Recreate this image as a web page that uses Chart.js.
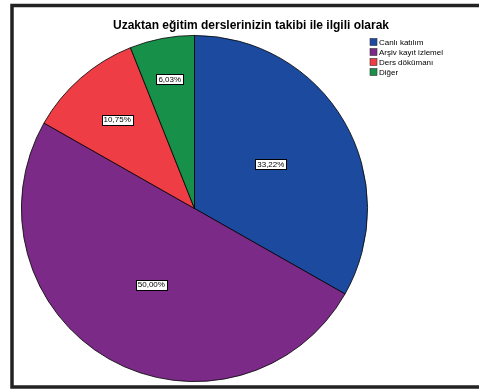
<!DOCTYPE html>
<html>
<head>
<meta charset="utf-8">
<script src="https://cdn.jsdelivr.net/npm/chart.js@4"></script>
<style>
html,body{margin:0;padding:0;background:#fff;}
#wrap{position:absolute;left:0;top:0;width:479px;height:389px;}
</style>
</head>
<body>
<div id="wrap"><canvas id="c" width="479" height="389"></canvas></div>
<script>
const titleText = 'Uzaktan eğitim derslerinizin takibi ile ilgili olarak';
const categories = ['Canlı katılım', 'Arşiv kayıt izlemel', 'Ders dökümanı', 'Diğer'];
const values = [33.22, 50.00, 10.75, 6.03];
const valueLabels = ['33,22%', '50,00%', '10,75%', '6,03%'];
const colors = ['#1c4a9f', '#7b2a87', '#ee3d45', '#179149'];

const overlay = {
  id: 'overlay',
  beforeDraw(chart) {
    const ctx = chart.ctx;
    ctx.save();
    ctx.fillStyle = '#fff';
    ctx.fillRect(0, 0, chart.width, chart.height);
    ctx.restore();
  },
  afterDraw(chart, args, opts) {
    const ctx = chart.ctx;
    ctx.save();
    // frame
    ctx.strokeStyle = '#222';
    ctx.lineWidth = 3.5;
    ctx.strokeRect(12, 5.5, 480, 381.5);
    // title
    ctx.fillStyle = '#000';
    ctx.font = 'bold 12px "Liberation Sans", Arial, sans-serif';
    ctx.textAlign = 'center';
    ctx.textBaseline = 'middle';
    ctx.fillText(titleText, 251, 26);
    // legend
    ctx.font = '8px "Liberation Sans", Arial, sans-serif';
    ctx.textAlign = 'left';
    categories.forEach((name, i) => {
      const y = 42 + i * 10;
      ctx.fillStyle = colors[i];
      ctx.fillRect(370, y - 3.5, 7, 7);
      ctx.strokeStyle = '#333';
      ctx.lineWidth = 0.6;
      ctx.strokeRect(370, y - 3.5, 7, 7);
      ctx.fillStyle = '#000';
      ctx.fillText(name, 379, y + 0.5);
    });
    // value labels
    const meta = chart.getDatasetMeta(0);
    ctx.font = '8px "Liberation Sans", Arial, sans-serif';
    ctx.textAlign = 'center';
    meta.data.forEach((arc, i) => {
      const p = arc.getProps(['x', 'y', 'startAngle', 'endAngle', 'outerRadius'], true);
      const mid = (p.startAngle + p.endAngle) / 2;
      const r = p.outerRadius * opts.radial[i];
      const x = p.x + Math.cos(mid) * r;
      const y = p.y + Math.sin(mid) * r;
      const t = valueLabels[i];
      const w = ctx.measureText(t).width + 4;
      const h = 10;
      ctx.fillStyle = '#fff';
      ctx.fillRect(Math.round(x - w / 2) + 0.5, Math.round(y - h / 2) + 0.5, Math.round(w), h);
      ctx.strokeStyle = '#000';
      ctx.lineWidth = 1;
      ctx.strokeRect(Math.round(x - w / 2) + 0.5, Math.round(y - h / 2) + 0.5, Math.round(w), h);
      ctx.fillStyle = '#000';
      ctx.fillText(t, x, y + 0.5);
    });
    ctx.restore();
  }
};

new Chart(document.getElementById('c'), {
  type: 'pie',
  data: {
    labels: categories,
    datasets: [{
      data: values,
      backgroundColor: colors,
      borderColor: '#000',
      borderWidth: 0.8
    }]
  },
  options: {
    responsive: false,
    animation: false,
    layout: { padding: { left: 21, top: 35, right: 111, bottom: 7 } },
    plugins: {
      legend: { display: false },
      title: { display: false },
      tooltip: { enabled: false },
      overlay: { radial: [0.51, 0.505, 0.68, 0.76] }
    }
  },
  plugins: [overlay]
});
</script>
</body>
</html>
